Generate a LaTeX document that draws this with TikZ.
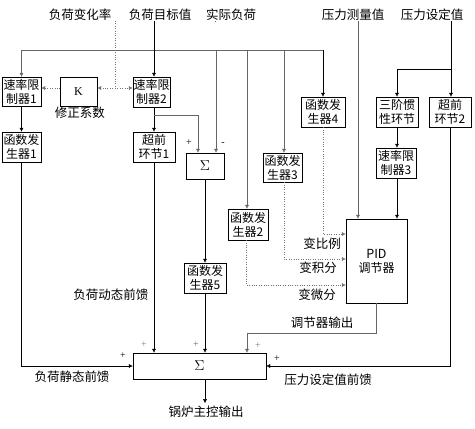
\documentclass[tikz,border=0pt]{standalone}
\usepackage{fontspec}
\setmainfont{Liberation Serif}
\newfontfamily\cjk{Noto Sans CJK SC}
\usetikzlibrary{arrows.meta,calc}

\begin{document}
\begin{tikzpicture}[
	x=1pt, y=-1pt,
	box/.style={ rectangle, draw, thin, inner sep=0pt, align=center, font=\cjk\fontsize{12}{14}\selectfont },
	lbl/.style={ inner sep=0pt, font=\cjk\fontsize{12.5}{14}\selectfont },
	sgn/.style={ inner sep=0pt, font=\fontsize{10}{12}\selectfont },
	arr/.style={ -{Latex[length=4pt,width=4pt]} },
	gline/.style={ black!60 },
	dot/.style={ dotted, black!55 }
]

\useasboundingbox (0,0) rectangle (475,429);

% top inputs
\node at (80,15) (rate) [lbl] {负荷变化率};
\node at (160,15) (tgt) [lbl] {负荷目标值};
\node at (231,15) (act) [lbl] {实际负荷};
\node at (353,15) (pmeas) [lbl] {压力测量值};
\node at (432,15) (pset) [lbl] {压力设定值};

% load side blocks
\node at (21.5,91.5) (rl1) [box, minimum width=39pt, minimum height=29pt] {速率限\\制器1};
\node at (78.5,91.5) (k) [box, minimum width=37pt, minimum height=29pt, font=\fontsize{12}{14}\selectfont] {K};
\node at (80,113) [lbl] {修正系数};
\node at (151.5,92) (rl2) [box, minimum width=37pt, minimum height=30pt] {速率限\\制器2};
\node at (21.5,147) (fg1) [box, minimum width=39pt, minimum height=30pt] {函数发\\生器1};
\node at (154,147) (lead1) [box, minimum width=42pt, minimum height=30pt] {超前\\环节1};
\node at (205,166) (sum1) [box, minimum width=38pt, minimum height=26pt, font=\fontsize{14}{16}\selectfont] {$\Sigma$};
\node at (205,278) (fg5) [box, minimum width=42pt, minimum height=30pt] {函数发\\生器5};
\node at (199.5,366) (sum2) [box, minimum width=133pt, minimum height=26pt, font=\fontsize{14}{16}\selectfont] {$\Sigma$};

% pressure side blocks
\node at (323,112) (fg4) [box, minimum width=44pt, minimum height=30pt] {函数发\\生器4};
\node at (282.5,167.5) (fg3) [box, minimum width=39pt, minimum height=29pt] {函数发\\生器3};
\node at (248,224.5) (fg2) [box, minimum width=40pt, minimum height=31pt] {函数发\\生器2};
\node at (397,112) (inert) [box, minimum width=42pt, minimum height=30pt] {三阶惯\\性环节};
\node at (450,112) (lead2) [box, minimum width=42pt, minimum height=30pt] {超前\\环节2};
\node at (396,163) (rl3) [box, minimum width=40pt, minimum height=30pt] {速率限\\制器3};
\node at (376.5,261) (pid) [box, minimum width=61pt, minimum height=84pt] {\fontsize{12.5}{16}\selectfont PID\\调节器};

% helper points
\coordinate (top) at (215,50);
\coordinate (split) at (115,88);
\coordinate (br) at (154,115);
\coordinate (pout) at (247,333);
\coordinate (pbr) at (451,69);

% actual load bus
\draw[gline] (rl1.north |- top) -- (fg4.north |- top);
\draw[gline] (act.south -| top) -- ([xshift=11pt]sum1.north |- act.south);
\draw[arr,gline] ([xshift=11pt]sum1.north |- top) -- ([xshift=11pt]sum1.north);
\draw[arr,gline] (rl1.north |- top) -- (rl1.north);
\draw[arr,gline] ([xshift=-1pt]fg2.north |- top) -- ([xshift=-1pt]fg2.north);
\draw[arr,gline] ([xshift=1.5pt]fg3.north |- top) -- ([xshift=1.5pt]fg3.north);
\draw[arr] (fg4.north |- top) -- (fg4.north);

% load rate correction
\draw[dot] (rate.south -| split) -- (split);
\draw[dot,arr] (split) -- (split -| k.east);
\draw[dot,arr] (split) -- (split -| rl2.west);
\draw[dot,arr] (split -| k.west) -- (split -| rl1.east);

% load target path
\draw[arr] (tgt.south -| br) -- (br |- rl2.north);
\draw[arr] (br |- rl2.south) -- (br |- lead1.north);
\draw[arr,gline] (br) -| ([xshift=-7pt]sum1.north);
\draw[arr] (sum1.south) -- (fg5.north);
\draw[arr] (fg5.south) -- (fg5.south |- sum2.north);
\draw[arr] (lead1.south) -- (lead1.south |- sum2.north);
\draw[arr] (rl1.south) -- (fg1.north);
\draw[arr] (fg1.south) |- (sum2.west);
\coordinate (out) at ($(sum2.south -| fg5)+(0,24)$);
\draw[arr] (sum2.south -| fg5) -- (out);
\node at (206,412) (boiler) [lbl] {锅炉主控输出};

% pressure path
\draw[arr] (pset.south -| pbr) -- (pbr |- lead2.north);
\draw[arr] (pbr) -| (inert.north);
\draw[arr] (inert.south) -- (inert.south |- rl3.north);
\draw[arr] (inert.south |- rl3.south) -- (inert.south |- pid.north);
\draw[arr,gline] (pmeas.south -| 358,0) -- (358,0 |- pid.north);
\draw[arr] (lead2.south) |- (sum2.east);
\draw[arr,gline] (pid.south) |- (pout) -- (pout |- sum2.north);

% variable gains
\draw[dot,arr] (fg4.south) |- (pid.west |- 0,234);
\draw[dot,arr] ([xshift=1.5pt]fg3.south) |- (pid.west |- 0,259);
\draw[dot,arr] ([xshift=-2pt]fg2.south) |- (pid.west |- 0,285);

% labels
\node at (322,244) [lbl] {变比例};
\node at (318,268) [lbl] {变积分};
\node at (317,295) [lbl] {变微分};
\node at (111,295) [lbl] {负荷动态前馈};
\node at (72,377) [lbl] {负荷静态前馈};
\node at (322,323) [lbl] {调节器输出};
\node at (328,380) [lbl] {压力设定值前馈};

% signs
\node at (189,143) [sgn] {+};
\node at (223,144) [sgn] {-};
\node at (144,345) [sgn, black!50] {+};
\node at (196,345) [sgn, black!60] {+};
\node at (258,346) [sgn, black!50] {+};
\node at (123,356) [sgn] {+};
\node at (277,359) [sgn] {+};

\end{tikzpicture}
\end{document}
